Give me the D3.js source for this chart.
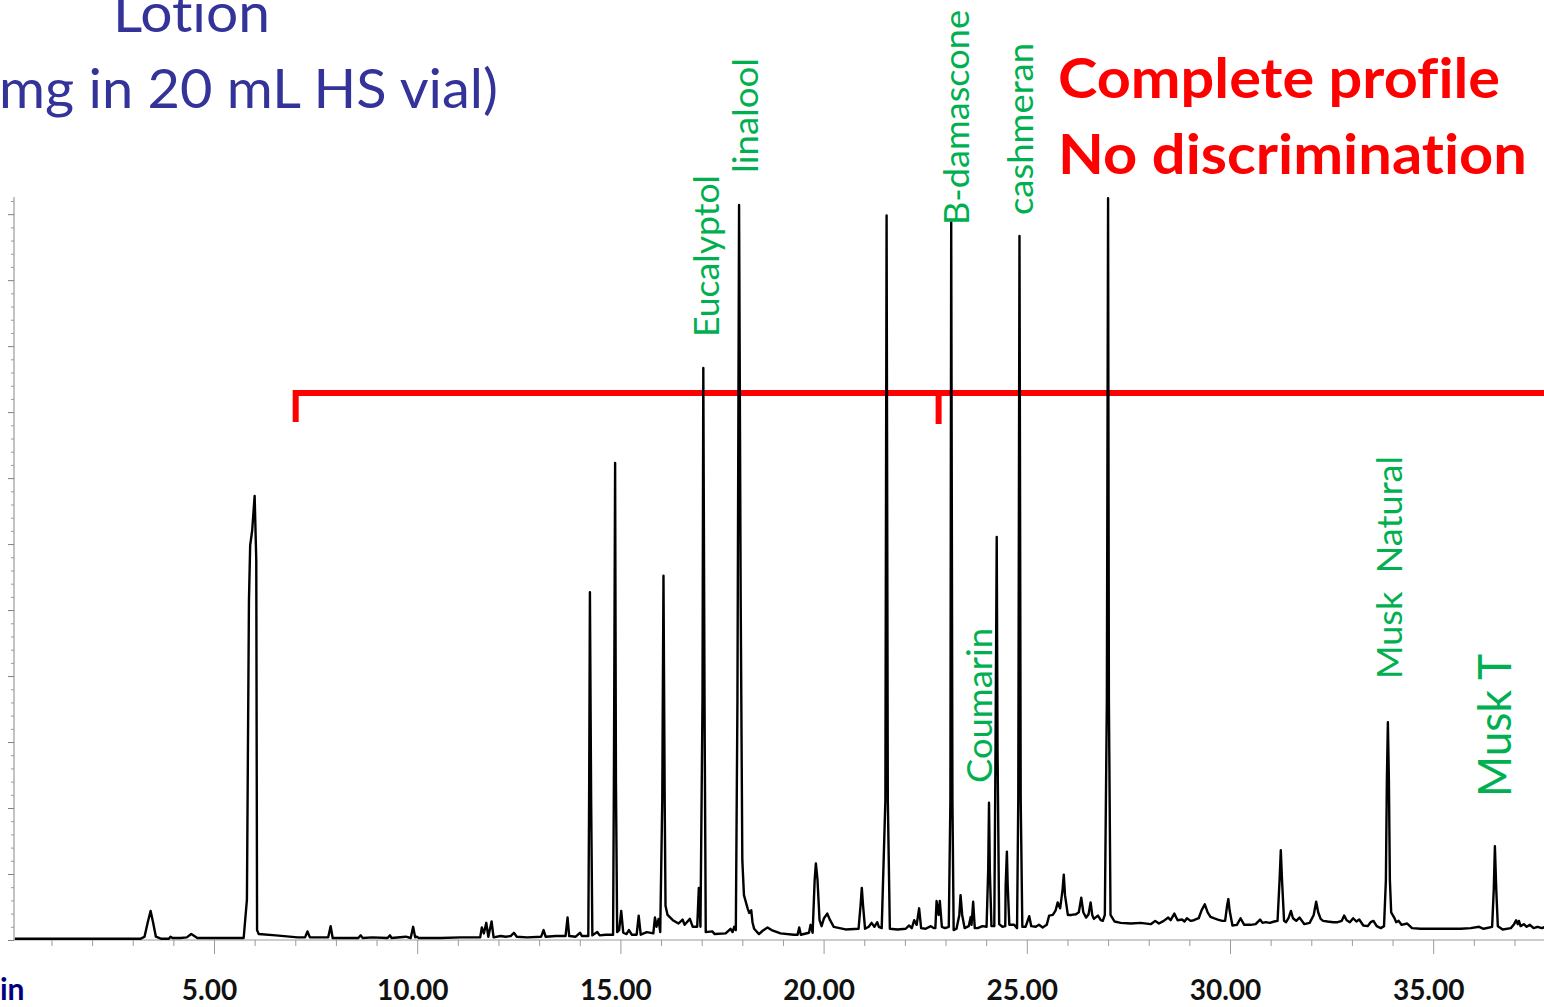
<!DOCTYPE html>
<html><head><meta charset="utf-8">
<script src="https://cdn.jsdelivr.net/npm/d3@7"></script>
<style>html,body{margin:0;padding:0;background:#fff;overflow:hidden} text{font-variant-ligatures:none;font-feature-settings:"liga" 0}</style>
</head><body><svg id="c" width="1544" height="1007"></svg>
<script>
// ---- data (retention time in min, abundance in arbitrary units) ----
const trace = [[0.10,0.02],[3.20,0.02],[3.29,0.05],[3.37,0.27],[3.44,0.44],[3.50,0.27],[3.57,0.05],[3.69,0.02],[3.89,0.02],[3.93,0.05],[3.98,0.03],[4.18,0.03],[4.33,0.04],[4.44,0.09],[4.59,0.03],[5.73,0.03],[5.81,0.61],[5.86,5.15],[5.89,5.98],[5.94,6.21],[6.00,6.73],[6.04,5.76],[6.06,0.15],[6.10,0.09],[6.52,0.07],[7.06,0.04],[7.24,0.04],[7.30,0.13],[7.36,0.04],[7.81,0.04],[7.87,0.21],[7.92,0.03],[8.55,0.03],[8.61,0.07],[8.66,0.03],[8.90,0.04],[9.27,0.03],[9.33,0.07],[9.37,0.03],[9.72,0.05],[9.84,0.03],[9.90,0.20],[9.95,0.04],[9.99,0.05],[10.04,0.03],[10.58,0.03],[11.07,0.04],[11.55,0.04],[11.59,0.19],[11.64,0.10],[11.70,0.26],[11.75,0.05],[11.83,0.28],[11.88,0.04],[12.05,0.06],[12.18,0.05],[12.30,0.06],[12.38,0.11],[12.45,0.05],[12.71,0.04],[13.05,0.05],[13.11,0.15],[13.16,0.05],[13.41,0.06],[13.65,0.06],[13.70,0.34],[13.74,0.06],[13.90,0.05],[14.01,0.11],[14.05,0.06],[14.21,0.06],[14.23,2.12],[14.25,5.27],[14.28,2.12],[14.31,0.07],[14.43,0.12],[14.49,0.07],[14.64,0.08],[14.82,0.08],[14.84,2.42],[14.87,7.23],[14.89,2.42],[14.92,0.12],[14.97,0.15],[15.02,0.44],[15.07,0.11],[15.15,0.09],[15.21,0.15],[15.28,0.08],[15.40,0.08],[15.45,0.37],[15.50,0.08],[15.65,0.12],[15.81,0.10],[15.85,0.34],[15.89,0.20],[15.94,0.32],[15.98,0.12],[16.03,2.12],[16.06,5.52],[16.09,2.12],[16.11,0.52],[16.16,0.38],[16.29,0.30],[16.43,0.25],[16.53,0.31],[16.58,0.23],[16.71,0.32],[16.78,0.20],[16.89,0.20],[16.93,0.79],[16.97,0.20],[17.02,3.64],[17.04,8.67],[17.07,3.64],[17.10,0.12],[17.26,0.13],[17.32,0.09],[17.59,0.10],[17.71,0.17],[17.76,0.12],[17.80,0.20],[17.84,0.15],[17.88,3.64],[17.92,11.14],[17.96,5.15],[18.00,1.21],[18.04,0.68],[18.13,0.48],[18.17,0.41],[18.22,0.45],[18.25,0.27],[18.29,0.17],[18.41,0.09],[18.50,0.14],[18.62,0.19],[18.72,0.15],[18.94,0.10],[19.27,0.08],[19.36,0.08],[19.40,0.19],[19.44,0.08],[19.64,0.11],[19.68,0.23],[19.73,0.11],[19.78,0.91],[19.81,1.16],[19.85,0.91],[19.90,0.30],[19.95,0.21],[20.01,0.33],[20.09,0.40],[20.16,0.30],[20.25,0.20],[20.54,0.16],[20.86,0.17],[20.91,0.53],[20.94,0.79],[20.97,0.53],[21.02,0.17],[21.11,0.20],[21.18,0.26],[21.25,0.20],[21.32,0.27],[21.36,0.20],[21.43,0.18],[21.52,2.12],[21.55,10.98],[21.58,2.12],[21.63,0.17],[21.82,0.16],[22.02,0.17],[22.10,0.22],[22.17,0.18],[22.23,0.30],[22.29,0.23],[22.35,0.48],[22.40,0.18],[22.51,0.17],[22.64,0.21],[22.71,0.18],[22.75,0.18],[22.78,0.59],[22.83,0.38],[22.86,0.59],[22.91,0.20],[22.99,0.18],[23.08,0.20],[23.12,2.12],[23.14,10.88],[23.17,2.12],[23.20,0.15],[23.27,0.17],[23.34,0.38],[23.37,0.68],[23.41,0.38],[23.47,0.18],[23.57,0.21],[23.62,0.35],[23.64,0.23],[23.68,0.58],[23.72,0.18],[23.79,0.18],[23.91,0.21],[24.01,0.20],[24.05,1.06],[24.07,2.08],[24.09,1.06],[24.13,0.21],[24.20,0.21],[24.23,2.88],[24.26,6.11],[24.28,2.88],[24.32,0.24],[24.40,0.20],[24.47,0.21],[24.48,0.83],[24.51,1.34],[24.53,0.83],[24.57,0.23],[24.69,0.23],[24.76,0.18],[24.79,2.12],[24.82,10.67],[24.85,2.12],[24.89,0.20],[24.97,0.20],[25.06,0.36],[25.11,0.21],[25.22,0.20],[25.30,0.23],[25.39,0.19],[25.49,0.23],[25.55,0.37],[25.64,0.38],[25.71,0.45],[25.76,0.57],[25.82,0.48],[25.88,0.76],[25.91,0.99],[25.94,0.68],[26.01,0.38],[26.10,0.38],[26.21,0.39],[26.28,0.42],[26.34,0.64],[26.39,0.42],[26.46,0.34],[26.52,0.39],[26.57,0.57],[26.61,0.38],[26.65,0.32],[26.75,0.37],[26.82,0.30],[26.87,0.29],[26.92,0.38],[26.97,3.64],[27.00,11.24],[27.02,3.64],[27.06,0.38],[27.16,0.28],[27.31,0.26],[27.56,0.25],[27.80,0.26],[28.05,0.24],[28.16,0.29],[28.25,0.25],[28.37,0.29],[28.48,0.34],[28.54,0.30],[28.63,0.40],[28.71,0.30],[28.82,0.31],[28.88,0.28],[28.94,0.33],[29.03,0.29],[29.11,0.30],[29.23,0.33],[29.30,0.45],[29.38,0.54],[29.45,0.42],[29.52,0.35],[29.60,0.33],[29.70,0.31],[29.81,0.29],[29.88,0.29],[29.93,0.53],[29.96,0.62],[29.99,0.45],[30.06,0.22],[30.17,0.23],[30.26,0.33],[30.35,0.23],[30.51,0.23],[30.63,0.24],[30.74,0.31],[30.80,0.26],[30.88,0.27],[30.98,0.26],[31.09,0.28],[31.17,0.29],[31.22,0.91],[31.25,1.36],[31.28,0.91],[31.33,0.29],[31.38,0.27],[31.44,0.33],[31.50,0.44],[31.55,0.33],[31.63,0.29],[31.71,0.34],[31.83,0.24],[31.96,0.26],[32.06,0.38],[32.12,0.58],[32.17,0.42],[32.23,0.32],[32.29,0.29],[32.40,0.28],[32.54,0.27],[32.65,0.27],[32.75,0.29],[32.81,0.37],[32.87,0.30],[32.95,0.27],[33.03,0.33],[33.11,0.28],[33.18,0.31],[33.28,0.22],[33.39,0.21],[33.46,0.27],[33.53,0.29],[33.61,0.21],[33.71,0.18],[33.79,0.21],[33.836,0.91],[33.860,2.42],[33.885,3.30],[33.910,2.42],[33.934,0.91],[33.966,0.42],[34.04,0.34],[34.09,0.27],[34.15,0.29],[34.22,0.23],[34.36,0.25],[34.48,0.18],[34.69,0.17],[35.18,0.17],[35.68,0.17],[35.92,0.18],[36.13,0.20],[36.24,0.17],[36.45,0.20],[36.49,0.76],[36.518,1.42],[36.552,0.76],[36.59,0.21],[36.71,0.16],[36.91,0.18],[36.99,0.24],[37.04,0.30],[37.08,0.24],[37.11,0.29],[37.15,0.21],[37.23,0.24],[37.30,0.20],[37.38,0.23],[37.47,0.18],[37.57,0.20],[37.67,0.18],[37.77,0.20]];

const xMajorTicks = [5, 10, 15, 20, 25, 30, 35];
const xTickLabels = ["5.00", "10.00", "15.00", "20.00", "25.00", "30.00", "35.00"];
const xMinorTicks = [1,2,3,4,6,7,8,9,11,12,13,14,16,17,18,19,21,22,23,24,26,27,28,29,31,32,33,34,36,37];
const compounds = ["Eucalyptol", "linalool", "B-damascone", "cashmeran", "Coumarin", "Musk  Natural", "Musk T"];
const titleLines = ["Lotion", "mg in 20 mL HS vial)"];
const noteLines = ["Complete profile", "No discrimination"];
const axisUnitText = "in";
const bracketTimes = {start: 7.01, mid: 22.83, end: 38.5};
const bracketLevel = 8.29;

// ---- layout ----
const svg = d3.select("#c");
const x = d3.scaleLinear().domain([0, 38]).range([10.8, 10.8 + 40.64 * 38]);
const y = d3.scaleLinear().domain([0, 11.26]).range([940, 197]);
const FONT = "Lato, 'Open Sans', sans-serif";
const axisGray = "#9a9a9a";

// x axis line
svg.append("line").attr("x1", 14).attr("x2", 1544).attr("y1", y(0)).attr("y2", y(0))
  .attr("stroke", axisGray).attr("stroke-width", 1.2);
// y axis line
svg.append("line").attr("x1", 14).attr("x2", 14).attr("y1", y(11.26)).attr("y2", y(0))
  .attr("stroke", axisGray).attr("stroke-width", 1.2);

// minor x ticks
const gMin = svg.append("g").attr("transform", `translate(0,${y(0)})`)
  .call(d3.axisBottom(x).tickValues(xMinorTicks).tickSize(6).tickFormat(""));
gMin.select(".domain").remove();
gMin.selectAll("line").attr("stroke", axisGray);

// major x ticks
const gMaj = svg.append("g").attr("transform", `translate(0,${y(0)})`)
  .call(d3.axisBottom(x).tickValues(xMajorTicks).tickSize(14).tickPadding(0)
    .tickFormat((d, i) => xTickLabels[i]));
gMaj.select(".domain").remove();
gMaj.selectAll("line").attr("stroke", axisGray);
gMaj.selectAll("text").attr("y", 60).attr("dy", 0).attr("dx", -5)
  .attr("fill", "#111").style("font-family", FONT).style("font-weight", 700).style("font-size", "28px");

// y ticks (labels lie outside the visible area)
const yMinor = y.ticks(56).filter(v => Math.abs(v - Math.round(v)) > 1e-6);
const yMajor = y.ticks(11).filter(v => Math.abs(v - Math.round(v)) < 1e-6);
const gyMin = svg.append("g").attr("transform", "translate(14,0)")
  .call(d3.axisLeft(y).tickValues(yMinor).tickSize(3).tickFormat(""));
gyMin.select(".domain").remove();
gyMin.selectAll("line").attr("stroke", axisGray);
const gyMaj = svg.append("g").attr("transform", "translate(14,0)")
  .call(d3.axisLeft(y).tickValues(yMajor).tickSize(6).tickFormat(""));
gyMaj.select(".domain").remove();
gyMaj.selectAll("line").attr("stroke", "#808080");

// axis unit fragment
svg.append("text").attr("x", 0).attr("y", 1000).text(axisUnitText)
  .attr("fill", "#000080").style("font-family", FONT).style("font-weight", 700).style("font-size", "30px");

// red bracket
const bp = d3.path();
bp.moveTo(x(bracketTimes.start), y(bracketLevel - 0.44));
bp.lineTo(x(bracketTimes.start), y(bracketLevel));
bp.lineTo(x(bracketTimes.end), y(bracketLevel));
bp.moveTo(x(bracketTimes.mid), y(bracketLevel));
bp.lineTo(x(bracketTimes.mid), y(bracketLevel - 0.47));
svg.append("path").attr("d", bp.toString()).attr("fill", "none")
  .attr("stroke", "#ff0000").attr("stroke-width", 6).attr("stroke-linejoin", "miter");

// chromatogram trace
const line = d3.line().x(d => x(d[0])).y(d => y(d[1]));
svg.append("path").datum(trace).attr("d", line).attr("fill", "none")
  .attr("stroke", "#000").attr("stroke-width", 2.4).attr("stroke-linejoin", "round");

// compound labels (rotated, green)
const labelLayout = [
  {bx: 719, by: 337, len: 162, fs: 35},
  {bx: 758, by: 173, len: 115, fs: 35},
  {bx: 969, by: 225, len: 215, fs: 35},
  {bx: 1033, by: 215, len: 172, fs: 35},
  {bx: 992, by: 783, len: 155, fs: 35},
  {bx: 1402, by: 679, len: 223, fs: 35},
  {bx: 1511, by: 797, len: 143, fs: 46}
];
compounds.forEach((name, i) => {
  const L = labelLayout[i];
  svg.append("text").attr("transform", `translate(${L.bx},${L.by}) rotate(-90)`)
    .attr("textLength", L.len).attr("lengthAdjust", "spacingAndGlyphs")
    .style("white-space", "pre")
    .attr("fill", "#00b050").style("font-family", FONT).style("font-size", L.fs + "px")
    .text(name);
});

// titles (blue)
svg.append("text").attr("x", 113).attr("y", 32).attr("textLength", 157).attr("lengthAdjust", "spacingAndGlyphs")
  .attr("fill", "#333399").style("font-family", FONT).style("font-size", "55px").text(titleLines[0]);
svg.append("text").attr("x", -1).attr("y", 108).attr("textLength", 499).attr("lengthAdjust", "spacingAndGlyphs")
  .attr("fill", "#333399").style("font-family", FONT).style("font-size", "55px").text(titleLines[1]);

// red notes
svg.append("text").attr("x", 1058).attr("y", 98).attr("textLength", 442).attr("lengthAdjust", "spacingAndGlyphs")
  .attr("fill", "#ff0000").style("font-family", FONT).style("font-weight", 700).style("font-size", "55px").text(noteLines[0]);
svg.append("text").attr("x", 1058).attr("y", 174).attr("textLength", 469).attr("lengthAdjust", "spacingAndGlyphs")
  .attr("fill", "#ff0000").style("font-family", FONT).style("font-weight", 700).style("font-size", "55px").text(noteLines[1]);
</script>
</body></html>
